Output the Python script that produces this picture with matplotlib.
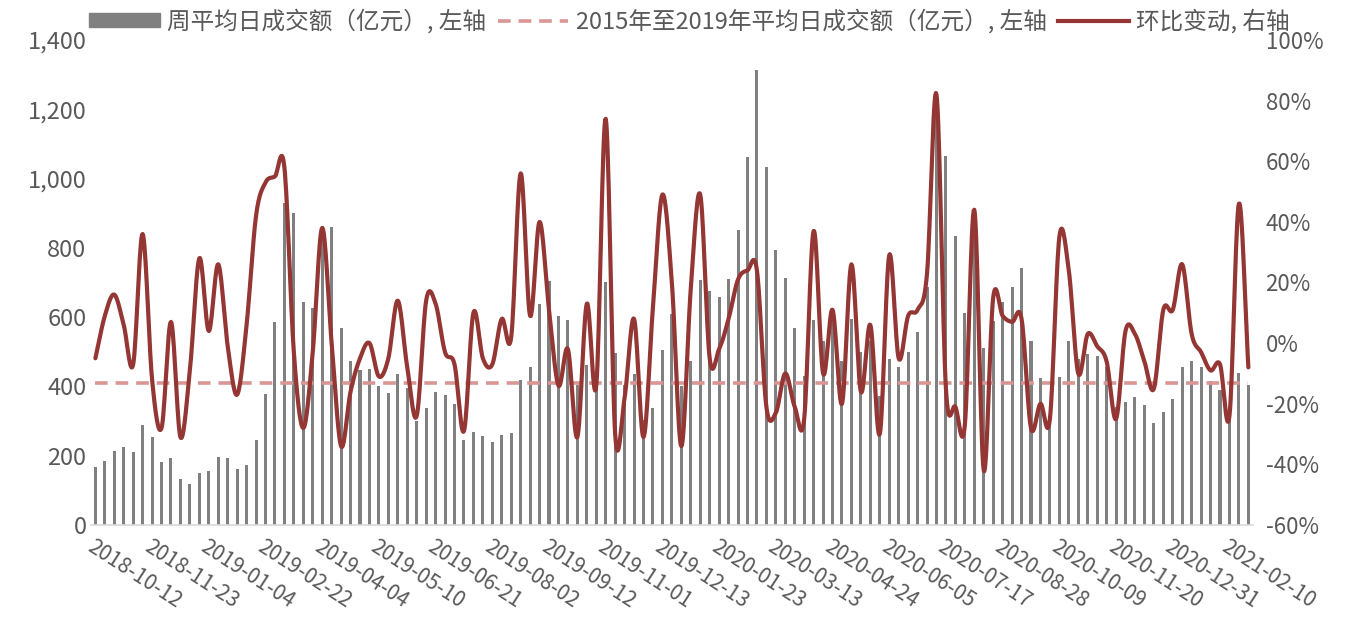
import matplotlib
matplotlib.use('Agg')
import matplotlib.pyplot as plt
import numpy as np
from matplotlib.patches import Patch
from matplotlib.lines import Line2D

plt.rcParams['font.family'] = ['Noto Sans CJK SC', 'DejaVu Sans']

# weekly average daily turnover (100m yuan), left axis
volume = [168, 185, 215, 226, 212, 290, 253, 181, 194, 133,
          119, 151, 155, 197, 194, 161, 174, 245, 377, 586,
          929, 900, 645, 625, 862, 861, 568, 472, 447, 449,
          401, 382, 435, 395, 300, 339, 385, 375, 348, 245,
          269, 257, 239, 260, 267, 420, 456, 639, 704, 603,
          591, 403, 461, 397, 700, 496, 404, 437, 302, 339,
          505, 609, 401, 474, 707, 676, 659, 709, 852, 1063,
          1312, 1032, 794, 713, 569, 430, 592, 531, 590, 472,
          595, 500, 531, 372, 479, 457, 498, 557, 688, 1250,
          1065, 833, 611, 880, 512, 589, 643, 688, 741, 532,
          423, 316, 426, 531, 480, 493, 489, 455, 342, 356,
          369, 345, 294, 325, 363, 457, 473, 457, 417, 390,
          300, 438, 404]

# week-on-week change (%), right axis
wow = [-5, 9, 16, 6, -7, 36, -12, -28, 7, -31,
       -9, 28, 4, 26, -1, -17, 6, 42, 53, 55,
       58, -3, -28, -3, 38, 0, -34, -16, -5, 0,
       -11, -5, 14, -8, -24, 14, 13, -3, -7, -29,
       10, -5, -7, 8, 2, 56, 9, 40, 11, -14,
       -2, -31, 13, -14, 74, -30, -18, 8, -31, 12,
       49, 20, -34, 18, 49, -5, -2, 8, 21, 24,
       24, -21, -23, -10, -21, -25, 37, -10, 11, -20,
       26, -16, 6, -30, 29, -5, 9, 11, 23, 82,
       -15, -21, -27, 44, -42, 15, 9, 7, 8, -28,
       -20, -25, 35, 24, -10, 3, -1, -6, -25, 4,
       3, -6, -15, 11, 11, 26, 3, -3, -9, -7,
       -24, 46, -8]

avg_2015_2019 = 410

tick_labels = ['2018-10-12', '2018-11-23', '2019-01-04', '2019-02-22', '2019-04-04',
               '2019-05-10', '2019-06-21', '2019-08-02', '2019-09-12', '2019-11-01',
               '2019-12-13', '2020-01-23', '2020-03-13', '2020-04-24', '2020-06-05',
               '2020-07-17', '2020-08-28', '2020-10-09', '2020-11-20', '2020-12-31',
               '2021-02-10']
tick_step = 6

legend_labels = ['周平均日成交额（亿元）, 左轴',
                 '2015年至2019年平均日成交额（亿元）, 左轴',
                 '环比变动, 右轴']

bar_color = '#808080'
line_color = '#943634'
avg_color = '#D99694'
text_color = '#595959'


def smooth(xs, ys, steps=16):
    # catmull-rom, similar to excel "smoothed line"
    xs = np.asarray(xs, float)
    ys = np.asarray(ys, float)
    px = np.concatenate([[2 * xs[0] - xs[1]], xs, [2 * xs[-1] - xs[-2]]])
    py = np.concatenate([[2 * ys[0] - ys[1]], ys, [2 * ys[-1] - ys[-2]]])
    outx, outy = [], []
    t = np.linspace(0, 1, steps, endpoint=False)
    for i in range(1, len(px) - 2):
        for P, out in ((px, outx), (py, outy)):
            p0, p1, p2, p3 = P[i - 1], P[i], P[i + 1], P[i + 2]
            out.extend(0.5 * ((2 * p1) + (-p0 + p2) * t
                              + (2 * p0 - 5 * p1 + 4 * p2 - p3) * t ** 2
                              + (-p0 + 3 * p1 - 3 * p2 + p3) * t ** 3))
    outx.append(xs[-1])
    outy.append(ys[-1])
    return np.array(outx), np.array(outy)


n = len(volume)
x = np.arange(n)

fig = plt.figure(figsize=(13.49, 6.23), dpi=100)
ax = fig.add_axes([0.0672, 0.1573, 0.8617, 0.7785])
ax2 = ax.twinx()

ax.bar(x, volume, width=0.32, color=bar_color, zorder=2)
ax.plot(x, [avg_2015_2019] * n, color=avg_color, lw=2.6, dashes=(3.5, 2.2), zorder=3)

sx, sy = smooth(x, wow)
ax2.plot(sx, sy, color=line_color, lw=3.0, solid_capstyle='round')

ax.set_xlim(-0.5, n - 0.5)
ax.set_ylim(0, 1400)
ax.set_yticks(np.arange(0, 1401, 200))
ax.set_yticklabels([f'{v:,}' for v in range(0, 1401, 200)])
ax2.set_ylim(-60, 100)
ax2.set_yticks(np.arange(-60, 101, 20))
ax2.set_yticklabels([f'{v}%' for v in range(-60, 101, 20)])

ax.set_xticks(x[::tick_step][:len(tick_labels)])
ax.set_xticklabels(tick_labels, rotation=-33, ha='left', va='top',
                   rotation_mode='anchor')

for a in (ax, ax2):
    for s in a.spines.values():
        s.set_visible(False)
    a.tick_params(length=0, colors=text_color)
ax.spines['bottom'].set_visible(True)
ax.spines['bottom'].set_color('#d9d9d9')
ax.spines['bottom'].set_linewidth(1.2)
ax.tick_params(axis='y', pad=3, labelsize=17)
ax.tick_params(axis='x', pad=8, labelsize=15)
ax2.tick_params(axis='y', pad=9, labelsize=16)

handles = [Patch(color=bar_color),
           Line2D([], [], color=avg_color, lw=2.6, dashes=(3.5, 2.2)),
           Line2D([], [], color=line_color, lw=3.0)]
fig.legend(handles, legend_labels, loc='upper center', bbox_to_anchor=(0.511, 1.02),
           ncol=3, frameon=False, fontsize=17, handlelength=3.0, handleheight=0.5,
           columnspacing=0.5, handletextpad=0.3, labelcolor=text_color)

fig.savefig('out.png', dpi=100)
